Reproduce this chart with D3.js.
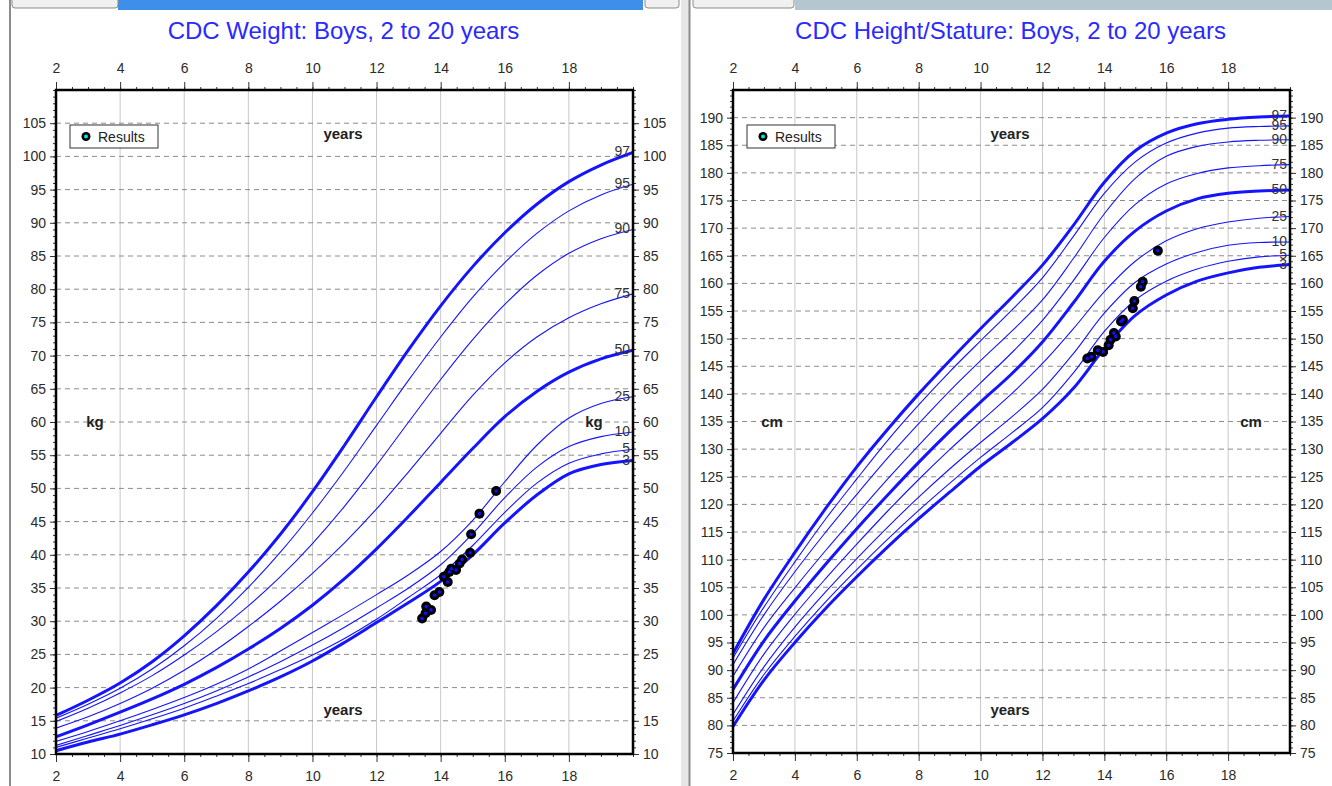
<!DOCTYPE html>
<html><head><meta charset="utf-8">
<script src="https://cdn.jsdelivr.net/npm/d3@7"></script>
<style>
body{margin:0;background:#fff;}
svg{display:block;font-family:"Liberation Sans",Arial,sans-serif;}
</style>
</head><body>
<svg id="c" width="1332" height="786"></svg>
<script>
// ---------- DATA ----------
const ages = [2,3,4,5,6,7,8,9,10,11,12,13,14,15,16,17,18,19,20];
const percentileNames = ["3","5","10","25","50","75","90","95","97"];
const thickPercentiles = ["3","50","97"];

// Weight (kg) percentile curves, boys 2-20
const weightP3  = [10.5,11.8,13.0,14.4,15.9,17.6,19.5,21.6,24.0,26.8,29.8,32.8,36.0,40.0,44.8,49.0,52.2,53.6,54.2];
const weightP5  = [11.0,12.4,13.8,15.3,16.9,18.7,20.6,22.7,24.9,27.4,30.3,33.6,37.0,41.4,46.4,50.8,53.8,55.2,55.9];
const weightP10 = [11.3,12.8,14.3,15.9,17.6,19.5,21.6,23.9,26.4,29.1,32.0,35.0,38.5,43.2,48.6,53.2,56.3,57.8,58.5];
const weightP25 = [11.9,13.4,15.0,16.7,18.5,20.5,22.8,25.5,28.3,31.1,34.0,37.0,40.5,45.2,51.0,56.5,60.6,62.8,63.8];
const weightP50 = [12.6,14.4,16.3,18.3,20.5,23.0,25.8,28.9,32.4,36.4,40.9,45.8,50.9,56.0,60.8,64.6,67.5,69.5,70.8];
const weightP75 = [13.9,15.6,17.6,19.9,22.6,25.7,29.2,33.0,37.2,41.8,46.9,52.5,58.3,64.0,68.9,72.8,75.7,77.8,79.3];
const weightP90 = [14.9,16.9,19.2,21.8,24.9,28.4,32.3,36.7,41.7,47.3,53.5,60.0,66.4,72.4,77.7,82.1,85.4,87.6,89.0];
const weightP95 = [15.4,17.5,19.9,22.8,26.3,30.4,35.1,40.4,46.3,52.7,59.5,66.3,72.8,78.8,84.0,88.4,91.8,94.2,95.8];
const weightP97 = [15.8,18.1,20.7,23.9,27.8,32.3,37.4,43.1,49.5,56.5,63.8,70.9,77.5,83.4,88.5,92.8,96.2,98.7,100.6];

// Height (cm) percentile curves, boys 2-20
const heightP3  = [79.8,88.2,95.0,101.2,106.9,112.3,117.4,122.2,126.9,131.1,135.5,141.0,148.2,154.2,157.9,160.4,161.9,162.9,163.4];
const heightP5  = [80.8,89.2,96.1,102.4,108.2,113.7,118.9,123.8,128.5,132.9,137.5,143.8,151.3,157.0,160.4,162.6,164.0,164.8,165.1];
const heightP10 = [82.0,90.6,97.8,104.2,110.2,115.9,121.3,126.4,131.2,135.8,140.8,147.3,154.6,160.2,163.5,165.6,166.9,167.4,167.5];
const heightP25 = [84.1,92.9,100.1,106.6,112.8,118.8,124.5,129.9,135.0,140.0,145.5,151.8,158.5,164.0,167.7,169.9,171.1,171.8,172.1];
const heightP50 = [86.5,95.3,102.5,109.2,115.6,121.7,127.6,133.2,138.5,143.6,149.4,156.5,164.0,169.5,173.1,175.3,176.3,176.7,176.9];
const heightP75 = [88.9,97.7,104.9,111.7,118.2,124.6,130.7,136.5,142.0,147.4,153.3,160.5,168.3,174.3,178.0,179.9,180.9,181.3,181.5];
const heightP90 = [91.0,100.0,107.8,115.0,121.8,128.4,134.6,140.5,146.0,151.3,157.0,164.5,172.6,179.0,183.0,184.8,185.6,185.9,186.0];
const heightP95 = [92.2,101.4,109.6,117.4,124.6,131.6,138.0,144.0,149.6,155.1,161.0,168.5,176.3,182.0,185.4,187.2,188.1,188.4,188.5];
const heightP97 = [93.0,102.8,111.3,119.3,126.8,133.6,140.0,146.0,151.8,157.4,163.3,170.5,178.3,184.0,187.2,188.9,189.7,190.1,190.3];

// Measured results
const weightResultAges = [13.42,13.53,13.55,13.70,13.81,13.96,14.10,14.22,14.27,14.33,14.48,14.59,14.67,14.92,14.95,15.21,15.73];
const weightResultKg   = [30.4,31.2,32.2,31.7,33.9,34.4,36.7,35.9,37.4,37.9,37.7,38.7,39.3,40.3,43.1,46.2,49.6];
const heightResultAges = [13.45,13.58,13.79,13.96,14.14,14.20,14.31,14.37,14.54,14.60,14.92,14.97,15.18,15.24,15.73];
const heightResultCm   = [146.4,146.7,147.9,147.6,148.8,149.8,151.0,150.4,153.1,153.4,155.5,156.8,159.4,160.3,165.9];

// Axis tick labels
const xTickLabels = [2,4,6,8,10,12,14,16,18];
const weightTickLabels = [10,15,20,25,30,35,40,45,50,55,60,65,70,75,80,85,90,95,100,105];
const heightTickLabels = [75,80,85,90,95,100,105,110,115,120,125,130,135,140,145,150,155,160,165,170,175,180,185,190];

// ---------- DRAW ----------
const svg = d3.select("#c");
const BLUE = "#1414ff";

// window chrome
svg.append("rect").attr("x",0).attr("y",0).attr("width",1332).attr("height",786).attr("fill","#fff");
svg.append("rect").attr("x",118).attr("y",0).attr("width",525).attr("height",10).attr("fill","#3d8fe9");
svg.append("rect").attr("x",795).attr("y",0).attr("width",537).attr("height",10).attr("fill","#b4c6cf");
[[12,-4,106,12],[645,-4,34,12],[693,-4,101,12]].forEach(b=>{
  svg.append("rect").attr("x",b[0]).attr("y",b[1]).attr("width",b[2]).attr("height",b[3]).attr("rx",3)
    .attr("fill","#f0f0f0").attr("stroke","#8a8a8a");
});
svg.append("line").attr("x1",10).attr("x2",10).attr("y1",0).attr("y2",786).attr("stroke","#8c8c8c").attr("stroke-width",2);
svg.append("rect").attr("x",681).attr("y",0).attr("width",8).attr("height",786).attr("fill","#e6e6e6");
svg.append("line").attr("x1",689.5).attr("x2",689.5).attr("y1",0).attr("y2",786).attr("stroke","#8c8c8c").attr("stroke-width",2);

function drawChart(cfg){
  const g = svg.append("g");
  const x = d3.scaleLinear().domain([2,20]).range([cfg.x0,cfg.x1]);
  const y = d3.scaleLinear().domain(cfg.yDomain).range([cfg.yBottom,cfg.yTop]);
  const [L,R,T,B] = [cfg.x0,cfg.x1,cfg.yTop,cfg.yBottom];

  // title
  g.append("text").attr("x",(L+R)/2-1).attr("y",39).attr("text-anchor","middle")
    .attr("font-size",24).attr("fill","#2a2aff").text(cfg.title);

  // vertical grid
  g.append("g").selectAll("line").data(xTickLabels.filter(d=>d>2)).join("line")
    .attr("x1",d=>x(d)).attr("x2",d=>x(d)).attr("y1",T).attr("y2",B)
    .attr("stroke","#c8c8c8").attr("stroke-width",1);
  // horizontal dashed grid
  g.append("g").selectAll("line").data(cfg.yLabels.filter(d=>d>cfg.yDomain[0])).join("line")
    .attr("x1",L).attr("x2",R).attr("y1",d=>y(d)).attr("y2",d=>y(d))
    .attr("stroke","#8c8c8c").attr("stroke-width",1).attr("stroke-dasharray","5,4");

  // axes - minor ticks
  const minorX = d3.range(2,20.01,0.5);
  const minorY = d3.range(cfg.yDomain[0],cfg.yDomain[1]+0.01,1);
  const styleAxis = sel => { sel.select(".domain").remove(); sel.selectAll("line").attr("stroke","#333"); };
  g.append("g").attr("transform",`translate(0,${T})`).call(d3.axisTop(x).tickValues(minorX).tickSize(3).tickFormat("")).call(styleAxis);
  g.append("g").attr("transform",`translate(0,${B})`).call(d3.axisBottom(x).tickValues(minorX).tickSize(3).tickFormat("")).call(styleAxis);
  g.append("g").attr("transform",`translate(${L},0)`).call(d3.axisLeft(y).tickValues(minorY).tickSize(3).tickFormat("")).call(styleAxis);
  g.append("g").attr("transform",`translate(${R},0)`).call(d3.axisRight(y).tickValues(minorY).tickSize(3).tickFormat("")).call(styleAxis);

  // major axes with labels
  const lab = sel => { sel.select(".domain").remove(); sel.selectAll("line").attr("stroke","#333");
    sel.selectAll("text").attr("fill","#2b2b2b").attr("font-size",14).attr("font-family","Liberation Sans, Arial, sans-serif"); };
  g.append("g").attr("transform",`translate(0,${T})`)
    .call(d3.axisTop(x).tickValues(xTickLabels).tickSize(8).tickPadding(9).tickFormat(d3.format("d"))).call(lab);
  g.append("g").attr("transform",`translate(0,${B})`)
    .call(d3.axisBottom(x).tickValues(xTickLabels).tickSize(8).tickPadding(9).tickFormat(d3.format("d"))).call(lab);
  g.append("g").attr("transform",`translate(${L},0)`)
    .call(d3.axisLeft(y).tickValues(cfg.yLabels).tickSize(6).tickPadding(4).tickFormat(d3.format("d"))).call(lab);
  g.append("g").attr("transform",`translate(${R},0)`)
    .call(d3.axisRight(y).tickValues(cfg.yLabels).tickSize(6).tickPadding(4).tickFormat(d3.format("d"))).call(lab);

  // unit labels
  const bold = (tx,ty,t)=>g.append("text").attr("x",tx).attr("y",ty).attr("text-anchor","middle")
    .attr("font-size",15).attr("font-weight","bold").attr("fill","#222").text(t);
  bold(cfg.yearsX,139,"years");
  bold(cfg.yearsX,715,"years");
  bold(L+39,427,cfg.unit);
  bold(R-39,427,cfg.unit);

  // curves
  const line = d3.line().x((d,i)=>x(ages[i])).y(d=>y(d)).curve(d3.curveCatmullRom.alpha(0.5));
  const clip = "clip"+cfg.id;
  g.append("clipPath").attr("id",clip).append("rect").attr("x",L).attr("y",T).attr("width",R-L).attr("height",B-T);
  const cg = g.append("g").attr("clip-path",`url(#${clip})`);
  cfg.series.forEach((vals,k)=>{
    const name = percentileNames[k];
    cg.append("path").datum(vals).attr("d",line).attr("fill","none").attr("stroke",BLUE)
      .attr("stroke-width",thickPercentiles.includes(name)?3:1.1);
  });
  cfg.series.forEach((vals,k)=>{
    g.append("text").attr("x",R-3).attr("y",y(vals[vals.length-1])+4).attr("text-anchor","end")
      .attr("font-size",14).attr("fill","#333").text(percentileNames[k]);
  });

  // result points
  const pts = g.append("g");
  pts.selectAll("circle.o").data(cfg.resAges).join("circle").attr("class","o")
    .attr("cx",d=>x(d)).attr("cy",(d,i)=>y(cfg.resVals[i])).attr("r",5).attr("fill","#000");
  pts.selectAll("circle.i").data(cfg.resAges).join("circle").attr("class","i")
    .attr("cx",d=>x(d)).attr("cy",(d,i)=>y(cfg.resVals[i])).attr("r",1.8).attr("fill","#1010ff");

  // frame
  g.append("rect").attr("x",L).attr("y",T).attr("width",R-L).attr("height",B-T)
    .attr("fill","none").attr("stroke","#000").attr("stroke-width",2.5);

  // legend
  const lx = L+14, ly = 125;
  g.append("rect").attr("x",lx).attr("y",ly).attr("width",88).attr("height",23)
    .attr("fill","#fff").attr("stroke","#333").attr("stroke-width",1);
  g.append("circle").attr("cx",lx+16).attr("cy",ly+11.5).attr("r",4.5).attr("fill","#000");
  g.append("circle").attr("cx",lx+16).attr("cy",ly+11.5).attr("r",2).attr("fill","#00e5e5");
  g.append("text").attr("x",lx+28).attr("y",ly+17).attr("font-size",14).attr("fill","#222").text("Results");
}

drawChart({id:"w", title:"CDC Weight: Boys, 2 to 20 years", x0:56, x1:633, yTop:90, yBottom:754,
  yDomain:[10,110], yLabels:weightTickLabels, unit:"kg", yearsX:343,
  series:[weightP3,weightP5,weightP10,weightP25,weightP50,weightP75,weightP90,weightP95,weightP97],
  resAges:weightResultAges, resVals:weightResultKg});
drawChart({id:"h", title:"CDC Height/Stature: Boys, 2 to 20 years", x0:733, x1:1290, yTop:90, yBottom:753,
  yDomain:[75,195], yLabels:heightTickLabels, unit:"cm", yearsX:1010,
  series:[heightP3,heightP5,heightP10,heightP25,heightP50,heightP75,heightP90,heightP95,heightP97],
  resAges:heightResultAges, resVals:heightResultCm});
</script>
</body></html>
